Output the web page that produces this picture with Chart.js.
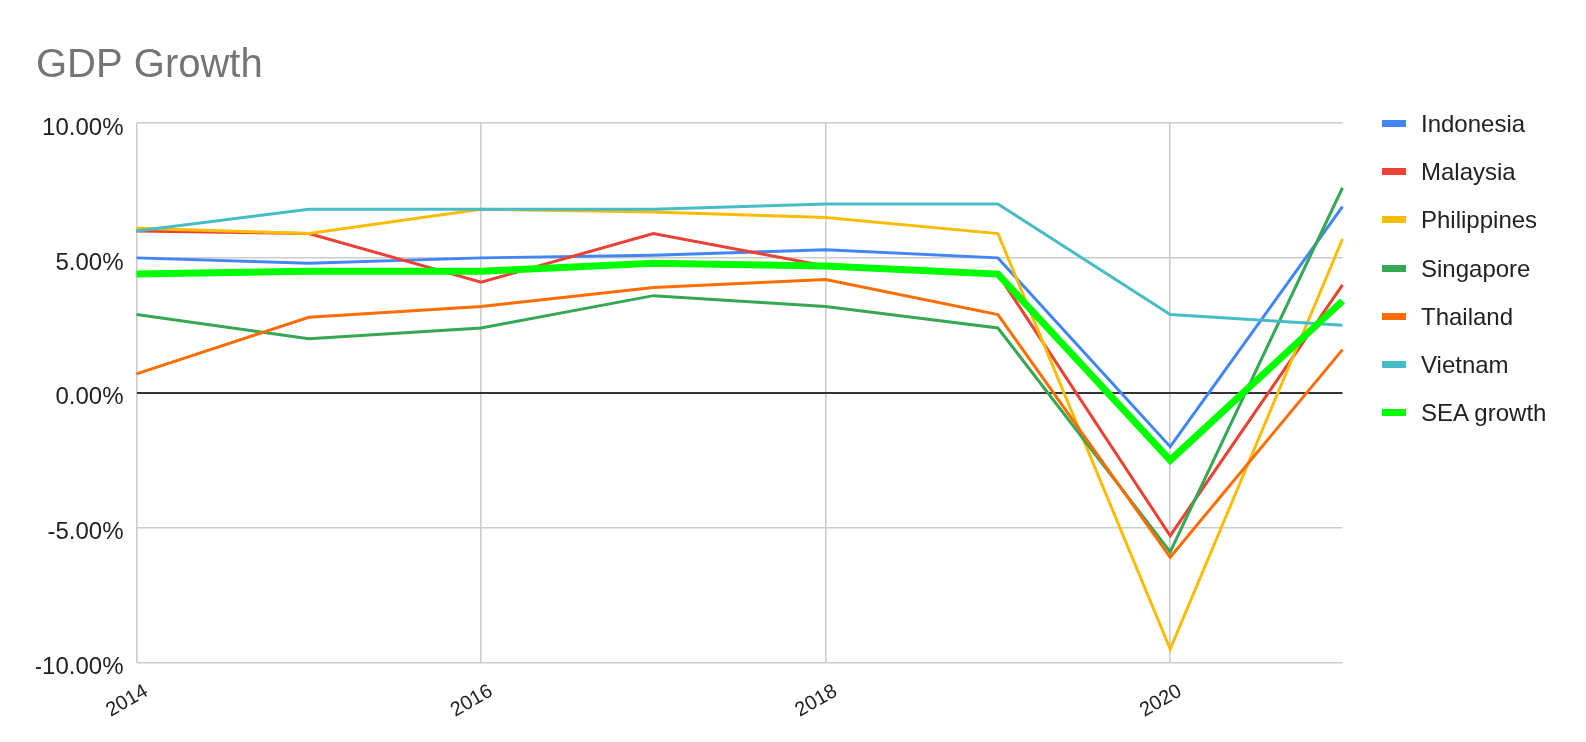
<!DOCTYPE html>
<html>
<head>
<meta charset="utf-8">
<title>GDP Growth</title>
<script src="https://cdn.jsdelivr.net/npm/chart.js@4.4.1/dist/chart.umd.min.js"></script>
<style>
    html, body { margin: 0; padding: 0; background: #fff; }
    #wrap { position: relative; width: 1586px; height: 742px; }
    #legend {
        position: absolute; left: 1382px; top: 112px;
        margin: 0; padding: 0; list-style: none;
        font-family: 'Liberation Sans', Arial, sans-serif;
        font-size: 24px; color: #222;
    }
    #legend li { position: relative; height: 48.2px; line-height: 24px; padding-left: 39px; white-space: nowrap; }
    #legend span { position: absolute; left: 0; top: 8px; width: 24px; height: 7px; }
</style>
</head>
<body>
<div id="wrap">
    <canvas id="chart" width="1586" height="742"></canvas>
    <ul id="legend"></ul>
</div>
<script>
// Anos (eixo x)
const years = ['2014', '2015', '2016', '2017', '2018', '2019', '2020', '2021'];

// Crescimento do PIB em %
const indonesia   = [5.0, 4.8, 5.0, 5.1, 5.3, 5.0, -2.0, 6.9];
const malaysia    = [6.0, 5.9, 4.1, 5.9, 4.7, 4.4, -5.3, 4.0];
const philippines = [6.1, 5.9, 6.8, 6.7, 6.5, 5.9, -9.5, 5.7];
const singapore   = [2.9, 2.0, 2.4, 3.6, 3.2, 2.4, -5.9, 7.6];
const thailand    = [0.7, 2.8, 3.2, 3.9, 4.2, 2.9, -6.1, 1.6];
const vietnam     = [6.0, 6.8, 6.8, 6.8, 7.0, 7.0, 2.9, 2.5];
const seaGrowth   = [4.4, 4.5, 4.5, 4.8, 4.7, 4.4, -2.5, 3.4];

const seriesNames = ['Indonesia', 'Malaysia', 'Philippines', 'Singapore', 'Thailand', 'Vietnam', 'SEA growth'];
const seriesData = [indonesia, malaysia, philippines, singapore, thailand, vietnam, seaGrowth];
const seriesColors = ['#4285f4', '#ea4335', '#fbbc04', '#34a853', '#ff6d01', '#46bdc6', '#00ff00'];

// Ticks do eixo y
const yMin = -10;
const yMax = 10;
const yStep = 5;

const FONT = "'Liberation Sans', Arial, sans-serif";

const datasets = seriesNames.map((name, i) => ({
    label: name,
    data: seriesData[i],
    borderColor: seriesColors[i],
    backgroundColor: seriesColors[i],
    borderWidth: i === seriesNames.length - 1 ? 7 : 3,
    pointRadius: 0,
    tension: 0,
    fill: false,
    // séries seguintes ficam por cima, como no original
    order: seriesNames.length - i
}));

const chart = new Chart(document.getElementById('chart'), {
    type: 'line',
    data: { labels: years, datasets: datasets },
    options: {
        responsive: false,
        animation: false,
        layout: { padding: { left: 36, right: 243.5, top: 0, bottom: 0 } },
        plugins: {
            legend: { display: false },
            tooltip: { enabled: false },
            title: {
                display: true,
                text: 'GDP Growth',
                align: 'start',
                color: '#757575',
                font: { family: FONT, size: 40, weight: 'normal' },
                padding: { top: 41.7, bottom: 33.3 }
            }
        },
        scales: {
            x: {
                border: { display: false },
                grid: {
                    drawTicks: false,
                    lineWidth: 1.6,
                    color: ctx => ctx.index % 2 === 0 ? '#cccccc' : 'rgba(0,0,0,0)'
                },
                ticks: {
                    autoSkip: false,
                    minRotation: 30,
                    maxRotation: 30,
                    padding: 17,
                    labelOffset: 10,
                    color: '#222',
                    font: { family: FONT, size: 20 },
                    callback: function (v, i) { return i % 2 === 0 ? this.getLabelForValue(v) : ''; }
                },
                afterFit: scale => { scale.height = 79.5; }
            },
            y: {
                min: yMin,
                max: yMax,
                border: { display: false },
                grid: {
                    drawTicks: false,
                    lineWidth: ctx => ctx.tick.value === 0 ? 2 : 1.6,
                    color: ctx => ctx.tick.value === 0 ? '#333333' : '#cccccc'
                },
                ticks: {
                    stepSize: yStep,
                    padding: 13,
                    labelOffset: 5,
                    color: '#222',
                    font: { family: FONT, size: 24 },
                    callback: v => v.toFixed(2) + '%'
                },
                afterFit: scale => { scale.width = 100.5; }
            }
        }
    }
});

// Legenda em HTML, à direita
const legend = document.getElementById('legend');
seriesNames.forEach((name, i) => {
    const li = document.createElement('li');
    const box = document.createElement('span');
    box.style.background = seriesColors[i];
    li.appendChild(box);
    li.appendChild(document.createTextNode(name));
    legend.appendChild(li);
});
</script>
</body>
</html>
